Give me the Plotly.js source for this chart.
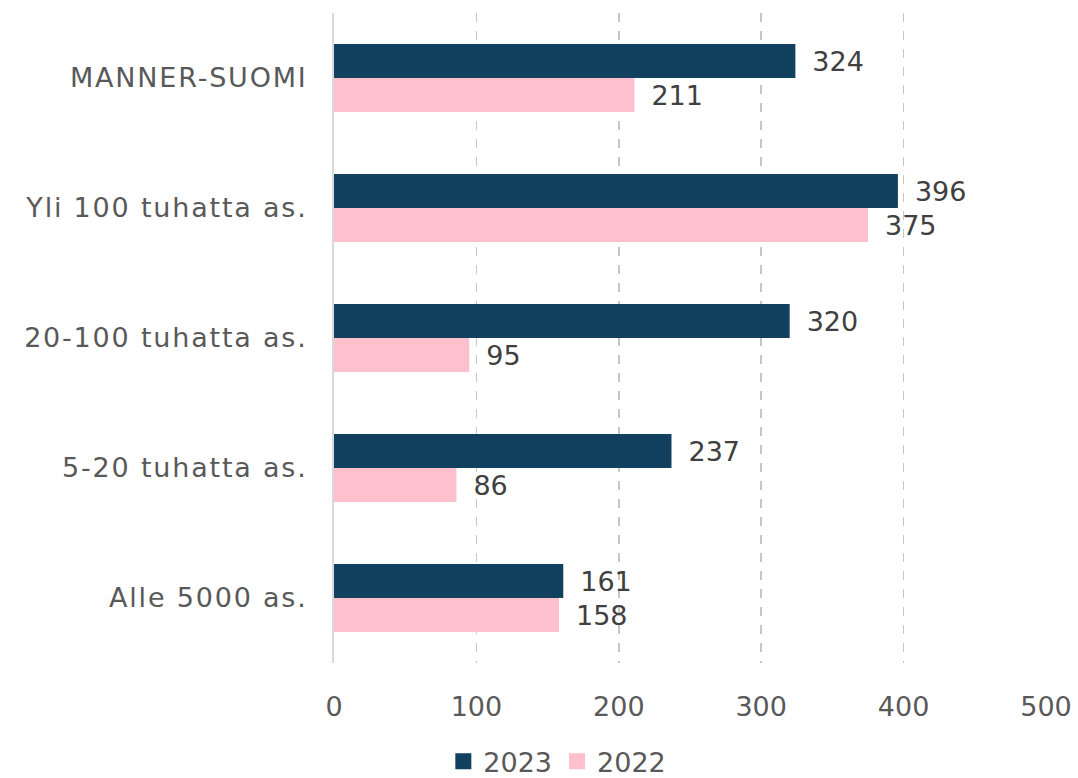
<!DOCTYPE html>
<html>
<head>
<meta charset="utf-8">
<script src="https://cdn.plot.ly/plotly-3.0.1.min.js"></script>
<style>
html,body{margin:0;padding:0;background:#fff;}
#chart{width:1078px;height:778px;}
#chart .ytick text{letter-spacing:1.8px;}
</style>
</head>
<body>
<div id="chart"></div>
<script>
const categories = ["MANNER-SUOMI", "Yli 100 tuhatta as.", "20-100 tuhatta as.", "5-20 tuhatta as.", "Alle 5000 as."];
const values2023 = [324, 396, 320, 237, 161];
const values2022 = [211, 375, 95, 86, 158];
const seriesNames = ["2023", "2022"];
const seriesColors = ["#12405f", "#ffc0cd"];
const tickValues = [0, 100, 200, 300, 400, 500];

const fontFamily = "'DejaVu Sans', sans-serif";
const labelFont = {family: fontFamily, size: 27, color: "#404040"};
const axisFont = {family: fontFamily, size: 27, color: "#595959"};

const traces = [
  {type: "bar", orientation: "h", name: seriesNames[0], y: categories, x: values2023,
   marker: {color: seriesColors[0]}, text: values2023.map(String), texttemplate: "\u2009 %{text}",
   textposition: "outside", textfont: labelFont, cliponaxis: false, showlegend: false},
  {type: "bar", orientation: "h", name: seriesNames[1], y: categories, x: values2022,
   marker: {color: seriesColors[1]}, text: values2022.map(String), texttemplate: "\u2009 %{text}",
   textposition: "outside", textfont: labelFont, cliponaxis: false, showlegend: false},
  {type: "scatter", mode: "markers", name: seriesNames[0], x: [null], y: [null],
   marker: {symbol: "square", size: 20, color: seriesColors[0]}, showlegend: true, hoverinfo: "skip"},
  {type: "scatter", mode: "markers", name: seriesNames[1], x: [null], y: [null],
   marker: {symbol: "square", size: 20, color: seriesColors[1]}, showlegend: true, hoverinfo: "skip"}
];

const layout = {
  width: 1078, height: 778,
  margin: {l: 334, r: 32, t: 13, b: 115},
  paper_bgcolor: "#fff", plot_bgcolor: "#fff",
  barmode: "group", bargap: 0.477, bargroupgap: 0,
  font: axisFont,
  xaxis: {range: [0, 500], tickvals: tickValues, showgrid: true, gridcolor: "#c6c6c6",
          griddash: "dash", gridwidth: 1.5, zeroline: false, showline: false,
          ticks: "", ticklabelstandoff: 25, tickfont: axisFont, automargin: false},
  yaxis: {autorange: "reversed", showgrid: false, zeroline: false, showline: true, linecolor: "#d9d9d9",
          linewidth: 2, ticks: "", ticklabelstandoff: 19, tickfont: axisFont, automargin: false},
  showlegend: true,
  legend: {orientation: "h", xref: "container", x: 0.517, xanchor: "center",
           yref: "container", y: 0.021, yanchor: "middle",
           font: axisFont, traceorder: "normal", itemwidth: 30}
};

Plotly.newPlot("chart", traces, layout, {displayModeBar: false, staticPlot: true});
</script>
</body>
</html>
